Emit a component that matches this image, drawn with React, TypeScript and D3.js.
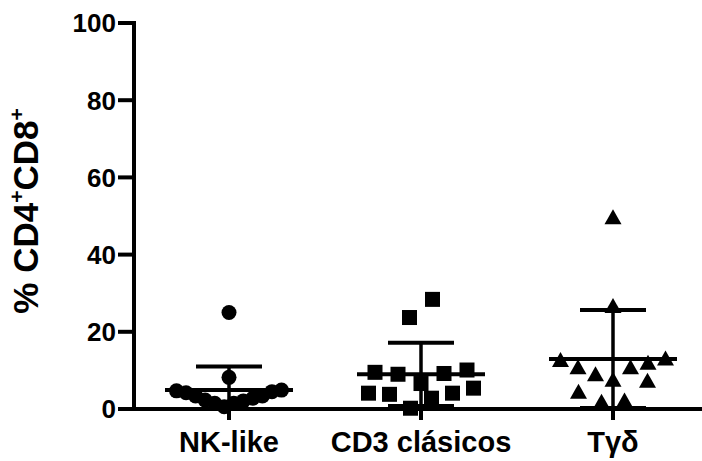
import React from "react";
import * as d3 from "d3";

const categories = ["NK-like", "CD3 clásicos", "Tγδ"];
const nkValues = [25, 8.2, 0.6, 1.5, 1.5, 2.1, 2.3, 2.8, 3.4, 3.4, 4.2, 4.5, 4.7, 4.9];
const cd3Values = [28.4, 23.7, 10.1, 9.5, 9.2, 9.0, 6.6, 5.4, 4.1, 4.1, 3.8, 2.8, 0.2];
const tgdValues = [49.7, 26.7, 13.1, 12.7, 12.0, 10.8, 10.8, 9.0, 7.6, 7.3, 4.5, 2.2, 1.9];
const yTicks = [0, 20, 40, 60, 80, 100];
const markerKinds = ["circle", "square", "triangle"];

const W = 702;
const H = 461;
const FONT = "'Liberation Sans', Arial, Helvetica, sans-serif";
const BIN = 5.6; // value-range of one scatter row
const MAX_SPACING = 23;
const MAX_WIDTH = 105;

function swarm(values: number[]) {
  const sorted = values.slice().sort(d3.ascending);
  const bins: number[][] = [];
  let start = -Infinity;
  for (const v of sorted) {
    if (v - start > BIN) {
      bins.push([v]);
      start = v;
    } else bins[bins.length - 1].push(v);
  }
  const out: { v: number; dx: number }[] = [];
  for (const b of bins) {
    const n = b.length;
    const sp = n > 1 ? Math.min(MAX_SPACING, MAX_WIDTH / (n - 1)) : 0;
    b.forEach((v, i) => {
      let slot: number;
      if (n % 2 === 1) {
        const k = Math.ceil(i / 2);
        slot = i % 2 === 1 ? -k : k;
      } else {
        const k = Math.floor(i / 2) + 0.5;
        slot = i % 2 === 0 ? -k : k;
      }
      out.push({ v, dx: slot * sp });
    });
  }
  return out;
}

function Marker({ kind, x, y }: { kind: string; x: number; y: number }) {
  if (kind === "circle") return <circle cx={x} cy={y} r={7.5} fill="#000" />;
  if (kind === "square")
    return <rect x={x - 7.5} y={y - 7.5} width={15} height={15} fill="#000" />;
  return (
    <path
      d={`M${x},${y - 8}L${x + 8.5},${y + 7}L${x - 8.5},${y + 7}Z`}
      fill="#000"
    />
  );
}

export default function App() {
  const groups = [nkValues, cd3Values, tgdValues];
  const x = d3.scaleBand<string>().domain(categories).range([133, 709]).padding(0);
  const y = d3.scaleLinear().domain([0, 100]).range([409, 23]);
  const axisX = 134;
  const axisY = y(0);

  return (
    <svg
      width={W}
      height={H}
      style={{ position: "absolute", left: 0, top: 0, background: "#fff" }}
      fontFamily={FONT}
      fontWeight="bold"
    >
      <rect width={W} height={H} fill="#fff" />
      {groups.map((vals, gi) => {
        const cx = (x(categories[gi]) as number) + x.bandwidth() / 2;
        const pts = swarm(vals);
        const mean = d3.mean(vals) as number;
        const sd = d3.deviation(vals) as number;
        const hi = mean + sd;
        const lo = Math.max(0, mean - sd);
        return (
          <g key={gi}>
            {pts.map((p, i) => (
              <Marker key={i} kind={markerKinds[gi]} x={cx + p.dx} y={y(p.v)} />
            ))}
            <line x1={cx} x2={cx} y1={y(hi)} y2={y(lo)} stroke="#000" strokeWidth={3.5} />
            <line x1={cx - 33} x2={cx + 33} y1={y(hi)} y2={y(hi)} stroke="#000" strokeWidth={4} />
            {mean - sd >= 0 && (
              <line x1={cx - 33} x2={cx + 33} y1={y(lo)} y2={y(lo)} stroke="#000" strokeWidth={4} />
            )}
            <line x1={cx - 64} x2={cx + 64} y1={y(mean)} y2={y(mean)} stroke="#000" strokeWidth={4} />
          </g>
        );
      })}
      <line x1={axisX} x2={axisX} y1={y(100) - 2} y2={axisY + 2} stroke="#000" strokeWidth={4} />
      {yTicks.map((t) => (
        <g key={t}>
          <line x1={118} x2={axisX} y1={y(t)} y2={y(t)} stroke="#000" strokeWidth={4} />
          <text x={116} y={y(t)} dy="0.36em" textAnchor="end" fontSize={26}>
            {t}
          </text>
        </g>
      ))}
      <line x1={axisX - 2} x2={W} y1={axisY} y2={axisY} stroke="#000" strokeWidth={4} />
      {categories.map((c) => {
        const cx = (x(c) as number) + x.bandwidth() / 2;
        return (
          <g key={c}>
            <line x1={cx} x2={cx} y1={axisY} y2={axisY + 11} stroke="#000" strokeWidth={4} />
            <text x={cx} y={452} textAnchor="middle" fontSize={29}>
              {c}
            </text>
          </g>
        );
      })}
      <text transform={`translate(38,211) rotate(-90)`} textAnchor="middle" fontSize={35}>
        % CD4
        <tspan fontSize={21} dy={-14}>+</tspan>
        <tspan dy={14}>CD8</tspan>
        <tspan fontSize={21} dy={-14}>+</tspan>
      </text>
    </svg>
  );
}
